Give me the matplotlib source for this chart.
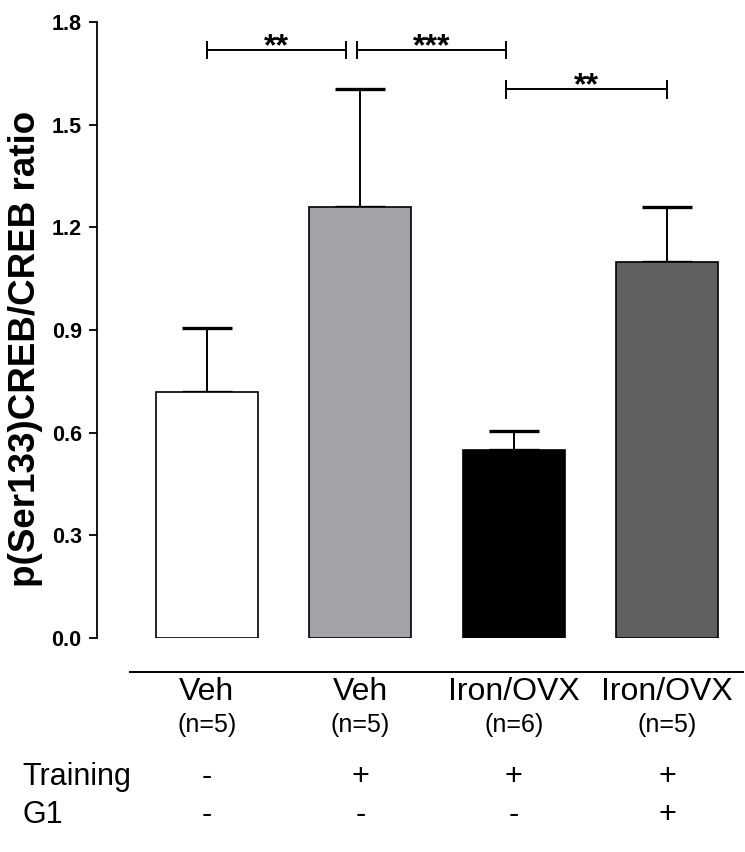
import matplotlib
matplotlib.use("Agg")
import matplotlib.pyplot as plt
from matplotlib.lines import Line2D

plt.rcParams.update({
    "font.family": "Liberation Sans",
    "axes.linewidth": 1.3,
})

# p-CREB / CREB ratio per group (mean + SEM)
groups = ["Veh", "Veh", "Iron/OVX", "Iron/OVX"]
n_labels = ["(n=5)", "(n=5)", "(n=6)", "(n=5)"]
means = [0.72, 1.26, 0.55, 1.10]
sems = [0.186, 0.343, 0.055, 0.16]
colors = ["#ffffff", "#a3a2a7", "#000000", "#606060"]
training = ["-", "+", "+", "+"]
g1 = ["-", "-", "-", "+"]

# significance brackets: (left, right, height, stars)
brackets = [(0.0, 0.91, 1.718, "**"),
            (0.98, 1.95, 1.718, "***"),
            (1.95, 3.0, 1.603, "**")]

x = list(range(len(means)))

fig = plt.figure(figsize=(7.45, 8.52), dpi=100)
ax = fig.add_axes([0.1302, 0.2512, 0.8698, 0.7230])

ax.bar(x, means, width=0.664, color=colors, edgecolor="black", linewidth=1.2, zorder=2)
ax.errorbar(x, means, yerr=[[0] * len(sems), sems], fmt="none", ecolor="black",
            elinewidth=1.4, capsize=18, capthick=2.4, zorder=1)

ax.set_xlim(-0.7166, 3.508)
ax.set_ylim(0, 1.8)
ax.set_yticks([0.0, 0.3, 0.6, 0.9, 1.2, 1.5, 1.8])
ax.set_yticklabels([f"{v:.1f}" for v in ax.get_yticks()], fontsize=15.5, fontweight="bold")
ax.tick_params(axis="y", direction="out", length=6, width=1.3, pad=5)
ax.set_xticks([])
for s in ("top", "right", "bottom"):
    ax.spines[s].set_visible(False)

ax.set_ylabel("p(Ser133)CREB/CREB ratio", fontsize=26.5, fontweight="bold")
ax.yaxis.set_label_coords(-0.084, 0.469)

# brackets with end ticks and stars
tick_h = 0.024
for x0, x1, y, stars in brackets:
    ax.plot([x0, x1], [y, y], color="black", lw=1.4, clip_on=False)
    for xe in (x0, x1):
        ax.plot([xe, xe], [y - tick_h, y + tick_h], color="black", lw=1.4, clip_on=False)
    ax.annotate(stars, ((x0 + x1) / 2, y), textcoords="offset points", xytext=(0, -3.5),
                ha="center", va="baseline", fontsize=23, fontweight="bold",
                annotation_clip=False)

# separator line under the plot
fig.add_artist(Line2D([130 / 745, 743 / 745], [1 - 672 / 852, 1 - 672 / 852],
                      color="black", lw=1.4))

# group labels below, in pixel rows of the figure
trans = ax.get_xaxis_transform()
def fig_y(px):
    # convert a pixel row of the figure to axes-y fraction
    y0, y1 = 1 - 638 / 852, 1 - 22 / 852
    return ((1 - px / 852) - y0) / (y1 - y0)

for xi, g, n, t, gg in zip(x, groups, n_labels, training, g1):
    ax.text(xi, fig_y(692), g, transform=trans, ha="center", va="center", fontsize=23, clip_on=False)
    ax.text(xi, fig_y(725), n, transform=trans, ha="center", va="center", fontsize=18, clip_on=False)
    ax.text(xi, fig_y(777), t, transform=trans, ha="center", va="center", fontsize=22, clip_on=False)
    ax.text(xi, fig_y(815), gg, transform=trans, ha="center", va="center", fontsize=22, clip_on=False)

fig.text(22 / 745, 1 - 777 / 852, "Training", ha="left", va="center", fontsize=22)
fig.text(22 / 745, 1 - 815 / 852, "G1", ha="left", va="center", fontsize=22)

fig.savefig("out.png", dpi=100)
